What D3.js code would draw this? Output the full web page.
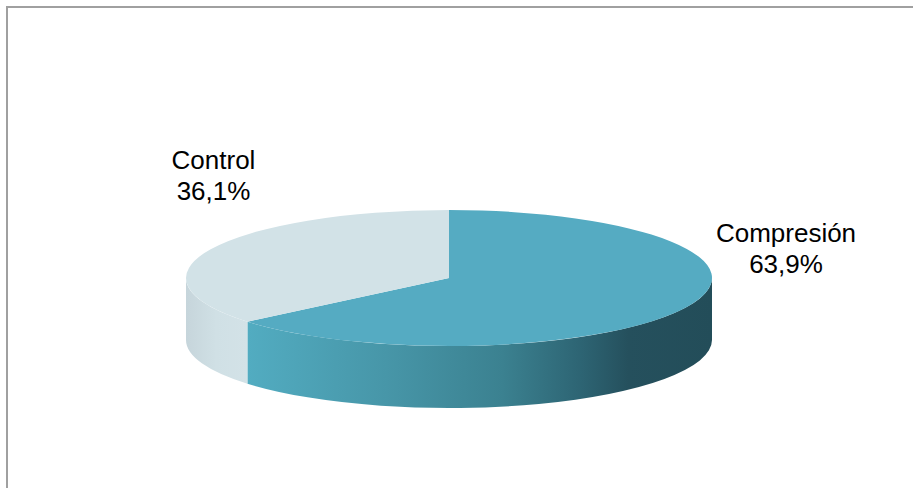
<!DOCTYPE html>
<html>
<head>
<meta charset="utf-8">
<script src="https://cdn.jsdelivr.net/npm/d3@7"></script>
<style>
html,body{margin:0;padding:0;background:#fff;}
svg{display:block;}
</style>
</head>
<body>
<svg id="chart" width="913" height="488"></svg>
<script>
const categories = ["Compresión", "Control"];
const values = [63.9, 36.1];
const valueLabels = ["63,9%", "36,1%"];

const svg = d3.select("#chart");
const W = 913, H = 488;

// frame
svg.append("rect").attr("x", 7).attr("y", 7).attr("width", W + 20).attr("height", H + 20)
  .attr("fill", "#fff").attr("stroke", "#a0a0a0").attr("stroke-width", 2);

const cx = 449, cy = 278, rx = 263, ry = 68, depth = 62;

const defs = svg.append("defs");
function grad(id, stops) {
  const g = defs.append("linearGradient").attr("id", id)
    .attr("gradientUnits", "userSpaceOnUse")
    .attr("x1", stops.x1).attr("x2", stops.x2).attr("y1", 0).attr("y2", 0);
  stops.s.forEach(s => g.append("stop").attr("offset", s[0]).attr("stop-color", s[1]));
}
grad("sideComp", {x1: 247, x2: 712, s: [[0, "#52acc1"], [0.3, "#4796a8"], [0.55, "#3b8190"], [0.72, "#2d6473"], [0.82, "#25505d"], [1, "#234d59"]]});
grad("sideCtrl", {x1: 186, x2: 247, s: [[0, "#c6d5db"], [0.5, "#d0e0e5"], [1, "#d3e2e7"]]});

const topColors = ["#55abc2", "#d2e2e7"];
const sideFills = ["url(#sideComp)", "url(#sideCtrl)"];

const pie = d3.pie().sort(null).value(d => d)(values);

function pt(a, dy = 0) {
  return [cx + rx * Math.sin(a), cy - ry * Math.cos(a) + dy];
}

const g = svg.append("g");

// sides (front half only)
pie.forEach((p, i) => {
  const a0 = Math.max(p.startAngle, Math.PI / 2);
  const a1 = Math.min(p.endAngle, 3 * Math.PI / 2);
  if (a1 <= a0) return;
  const s = pt(a0), e = pt(a1), sd = pt(a0, depth), ed = pt(a1, depth);
  const path = `M${s[0]},${s[1]} A${rx},${ry} 0 0 1 ${e[0]},${e[1]} L${ed[0]},${ed[1]} A${rx},${ry} 0 0 0 ${sd[0]},${sd[1]} Z`;
  g.append("path").attr("d", path).attr("fill", sideFills[i]);
});

// tops
pie.forEach((p, i) => {
  const s = pt(p.startAngle), e = pt(p.endAngle);
  const large = (p.endAngle - p.startAngle) > Math.PI ? 1 : 0;
  const path = `M${cx},${cy} L${s[0]},${s[1]} A${rx},${ry} 0 ${large} 1 ${e[0]},${e[1]} Z`;
  g.append("path").attr("d", path).attr("fill", topColors[i]);
});

// labels
const labelPos = [[786, 241.5], [213.5, 168.5]];
pie.forEach((p, i) => {
  const t = svg.append("text")
    .attr("text-anchor", "middle")
    .attr("font-family", "Liberation Sans, Arial, sans-serif")
    .attr("font-size", 26)
    .attr("fill", "#000");
  t.append("tspan").attr("x", labelPos[i][0]).attr("y", labelPos[i][1]).text(categories[i]);
  t.append("tspan").attr("x", labelPos[i][0]).attr("y", labelPos[i][1] + 31.5).text(valueLabels[i]);
});
</script>
</body>
</html>
